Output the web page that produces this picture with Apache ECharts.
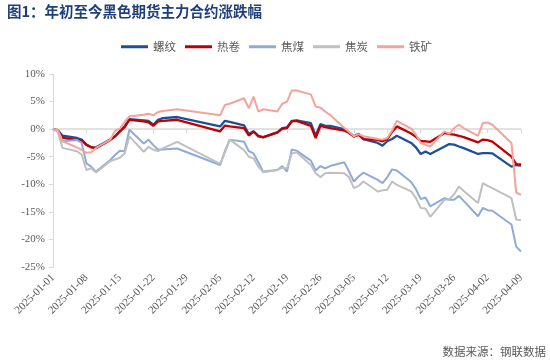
<!DOCTYPE html>
<html><head><meta charset="utf-8">
<script src="https://cdn.jsdelivr.net/npm/echarts@6/dist/echarts.min.js"></script>
<style>html,body{margin:0;padding:0;background:#fff}#c{width:550px;height:360px}</style>
</head><body><div id="c"></div>
<script>
const dates = ['2025-01-01','2025-01-02','2025-01-03','2025-01-06','2025-01-07','2025-01-08','2025-01-09','2025-01-10',
'2025-01-13','2025-01-14','2025-01-15','2025-01-16','2025-01-17','2025-01-20','2025-01-21','2025-01-22','2025-01-23','2025-01-24',
'2025-01-27','2025-02-05','2025-02-06','2025-02-07','2025-02-10','2025-02-11','2025-02-12','2025-02-13','2025-02-14',
'2025-02-17','2025-02-18','2025-02-19','2025-02-20','2025-02-21','2025-02-24','2025-02-25','2025-02-26','2025-02-27','2025-02-28',
'2025-03-03','2025-03-04','2025-03-05','2025-03-06','2025-03-07','2025-03-10','2025-03-11','2025-03-12','2025-03-13','2025-03-14',
'2025-03-17','2025-03-18','2025-03-19','2025-03-20','2025-03-21','2025-03-24','2025-03-25','2025-03-26','2025-03-27','2025-03-28',
'2025-03-31','2025-04-01','2025-04-02','2025-04-03','2025-04-07','2025-04-08','2025-04-09'];

const rebar = [0,-0.2,-1.2,-1.6,-1.9,-2.8,-3.3,-3.3,
-1.9,-1.3,-0.4,0.5,1.8,1.6,1.5,0.8,1.7,2.0,
2.2,0.5,1.5,1.3,0.7,-0.9,-0.4,-1.2,-1.45,
-0.6,0.2,0.3,1.5,1.6,1.1,-1.2,0.9,0.6,0.6,
0.0,-0.6,-1.3,-0.85,-1.8,-2.5,-3.0,-2.2,-1.8,-1.2,
-2.5,-3.3,-4.5,-4.05,-4.5,-3.15,-2.7,-2.8,-3.15,-3.45,
-4.5,-4.35,-4.35,-4.4,-6.8,-6.5,-6.6];

const hotCoil = [0,-0.2,-1.6,-1.95,-2.05,-2.85,-3.3,-3.45,
-1.95,-1.3,-0.4,0.35,1.7,1.4,1.25,0.6,1.4,1.5,
1.7,-0.4,0.65,0.5,0.2,-1.15,-0.45,-1.3,-1.5,
-0.6,0.05,0.2,1.4,1.5,0.6,-1.6,0.6,0.35,0.2,
-0.25,-0.7,-1.35,-1.05,-1.8,-1.95,-2.2,-1.8,-0.5,0.5,
-0.8,-1.4,-2.2,-2.2,-2.3,-0.7,-0.9,-1.0,-1.2,-1.45,
-2.4,-1.9,-2.0,-2.25,-5.0,-6.35,-6.4];

const cokingCoal = [0,-0.3,-2.2,-1.95,-2.5,-6.2,-6.8,-7.7,
-5.6,-4.7,-3.9,-4.0,-0.1,-2.6,-1.9,-2.9,-3.7,-3.7,
-3.5,-6.5,-4.0,-1.9,-2.3,-4.0,-4.4,-6.0,-7.7,
-7.4,-6.7,-7.7,-3.7,-3.9,-5.7,-7.5,-6.7,-7.1,-6.7,
-6.0,-7.7,-9.5,-8.6,-7.9,-9.2,-9.8,-8.7,-7.3,-7.5,
-9.6,-10.9,-12.7,-12.4,-14.0,-12.5,-12.8,-12.8,-12.1,-13.0,
-15.8,-14.3,-14.7,-14.8,-17.3,-21.3,-22.2];

const coke = [0,-0.5,-3.4,-4.0,-4.6,-7.4,-7.1,-7.85,
-5.8,-5.5,-5.2,-4.4,-1.3,-4.1,-3.2,-3.7,-4.0,-3.5,
-2.3,-6.3,-4.2,-1.9,-3.8,-5.0,-5.3,-6.8,-7.8,
-7.4,-7.0,-7.1,-4.4,-4.2,-6.5,-8.0,-8.7,-8.0,-7.9,
-8.0,-8.7,-10.7,-10.3,-9.5,-11.3,-11.1,-11.0,-9.5,-10.1,
-11.3,-12.5,-14.3,-14.4,-15.9,-12.8,-12.7,-11.8,-10.4,-11.2,
-13.4,-9.8,-10.3,-10.7,-12.5,-16.4,-16.5];

const ironOre = [0,-0.1,-2.2,-3.3,-3.75,-4.3,-4.2,-3.4,
-1.9,-0.3,0.1,1.3,2.3,2.6,2.8,2.5,3.1,3.3,
3.6,2.5,4.4,4.6,5.6,3.8,5.9,3.2,3.6,
3.2,4.6,5.0,7.0,7.0,6.3,4.1,3.9,3.2,2.6,
0.2,-0.5,-1.3,-0.9,-1.3,-1.8,-1.9,-1.6,-0.3,1.5,
0.1,-1.0,-2.5,-2.85,-3.15,-0.4,-0.85,0.2,0.8,0.2,
-1.2,1.1,1.2,0.8,-2.5,-11.5,-11.9];

const seriesNames = ['螺纹','热卷','焦煤','焦炭','铁矿'];
const tickLabels = ['2025-01-01','2025-01-08','2025-01-15','2025-01-22','2025-01-29','2025-02-05','2025-02-12',
'2025-02-19','2025-02-26','2025-03-05','2025-03-12','2025-03-19','2025-03-26','2025-04-02','2025-04-09'];
const yTicks = [-25,-20,-15,-10,-5,0,5,10];

const base = Date.UTC(2025,0,1);
function dayOf(s){const p=s.split('-').map(Number);return (Date.UTC(p[0],p[1]-1,p[2])-base)/86400000;}
const xs = dates.map(dayOf);
const lastDay = dayOf(tickLabels[tickLabels.length-1]);

const colors = ['#1f4e99','#c00000','#8eaadb','#bfbfbf','#f4a29b'];
const widths = [2.3,2.3,2,2,2];
const values = [rebar,hotCoil,cokingCoal,coke,ironOre];

const chart = echarts.init(document.getElementById('c'));
chart.setOption({
  animation:false,
  title:[
    {text:'图1：年初至今黑色期货主力合约涨跌幅',left:7,top:4,padding:0,
     textStyle:{fontFamily:'Noto Sans CJK SC',fontSize:14.5,fontWeight:'bold',color:'#1f3f7a'}},
    {text:'数据来源：钢联数据',right:4,bottom:3,padding:0,
     textStyle:{fontFamily:'Noto Sans CJK SC',fontSize:11.5,fontWeight:'normal',color:'#595959'}}
  ],
  legend:{left:121,top:41,padding:0,icon:'rect',itemWidth:27,itemHeight:3,itemGap:9,
    data:seriesNames,
    textStyle:{fontFamily:'Noto Sans CJK SC',fontSize:11.5,color:'#595959'}},
  grid:{left:53,right:29,top:74,bottom:93,containLabel:false},
  xAxis:[
    {type:'value',min:0,max:lastDay,interval:7,position:'bottom',
     axisLine:{show:false,onZero:false},axisTick:{show:false},splitLine:{show:false},
     axisLabel:{rotate:45,margin:9,fontFamily:'Liberation Serif',fontSize:11,color:'#595959',
       showMinLabel:true,showMaxLabel:true,
       formatter:function(v){const i=Math.round(v/7);return tickLabels[i]||'';}}},
    {type:'value',min:0,max:lastDay,interval:7,position:'bottom',
     axisLine:{show:true,onZero:true,lineStyle:{color:'#d9d9d9',width:1.5}},
     axisTick:{show:true,length:4,lineStyle:{color:'#d9d9d9',width:1}},
     axisLabel:{show:false},splitLine:{show:false}}
  ],
  yAxis:{type:'value',min:yTicks[0],max:yTicks[yTicks.length-1],interval:5,
    axisLine:{show:true,lineStyle:{color:'#d9d9d9',width:1}},
    axisTick:{show:true,length:4,lineStyle:{color:'#d9d9d9'}},
    splitLine:{show:false},
    axisLabel:{formatter:'{value}%',margin:8,fontFamily:'Liberation Serif',fontSize:11,color:'#595959'}},
  series: seriesNames.map((n,k)=>({
    name:n,type:'line',xAxisIndex:0,symbol:'none',showSymbol:false,
    color:colors[k],lineStyle:{width:widths[k],color:colors[k]},
    data: xs.map((x,i)=>[x,values[k][i]])
  }))
});
</script></body></html>
